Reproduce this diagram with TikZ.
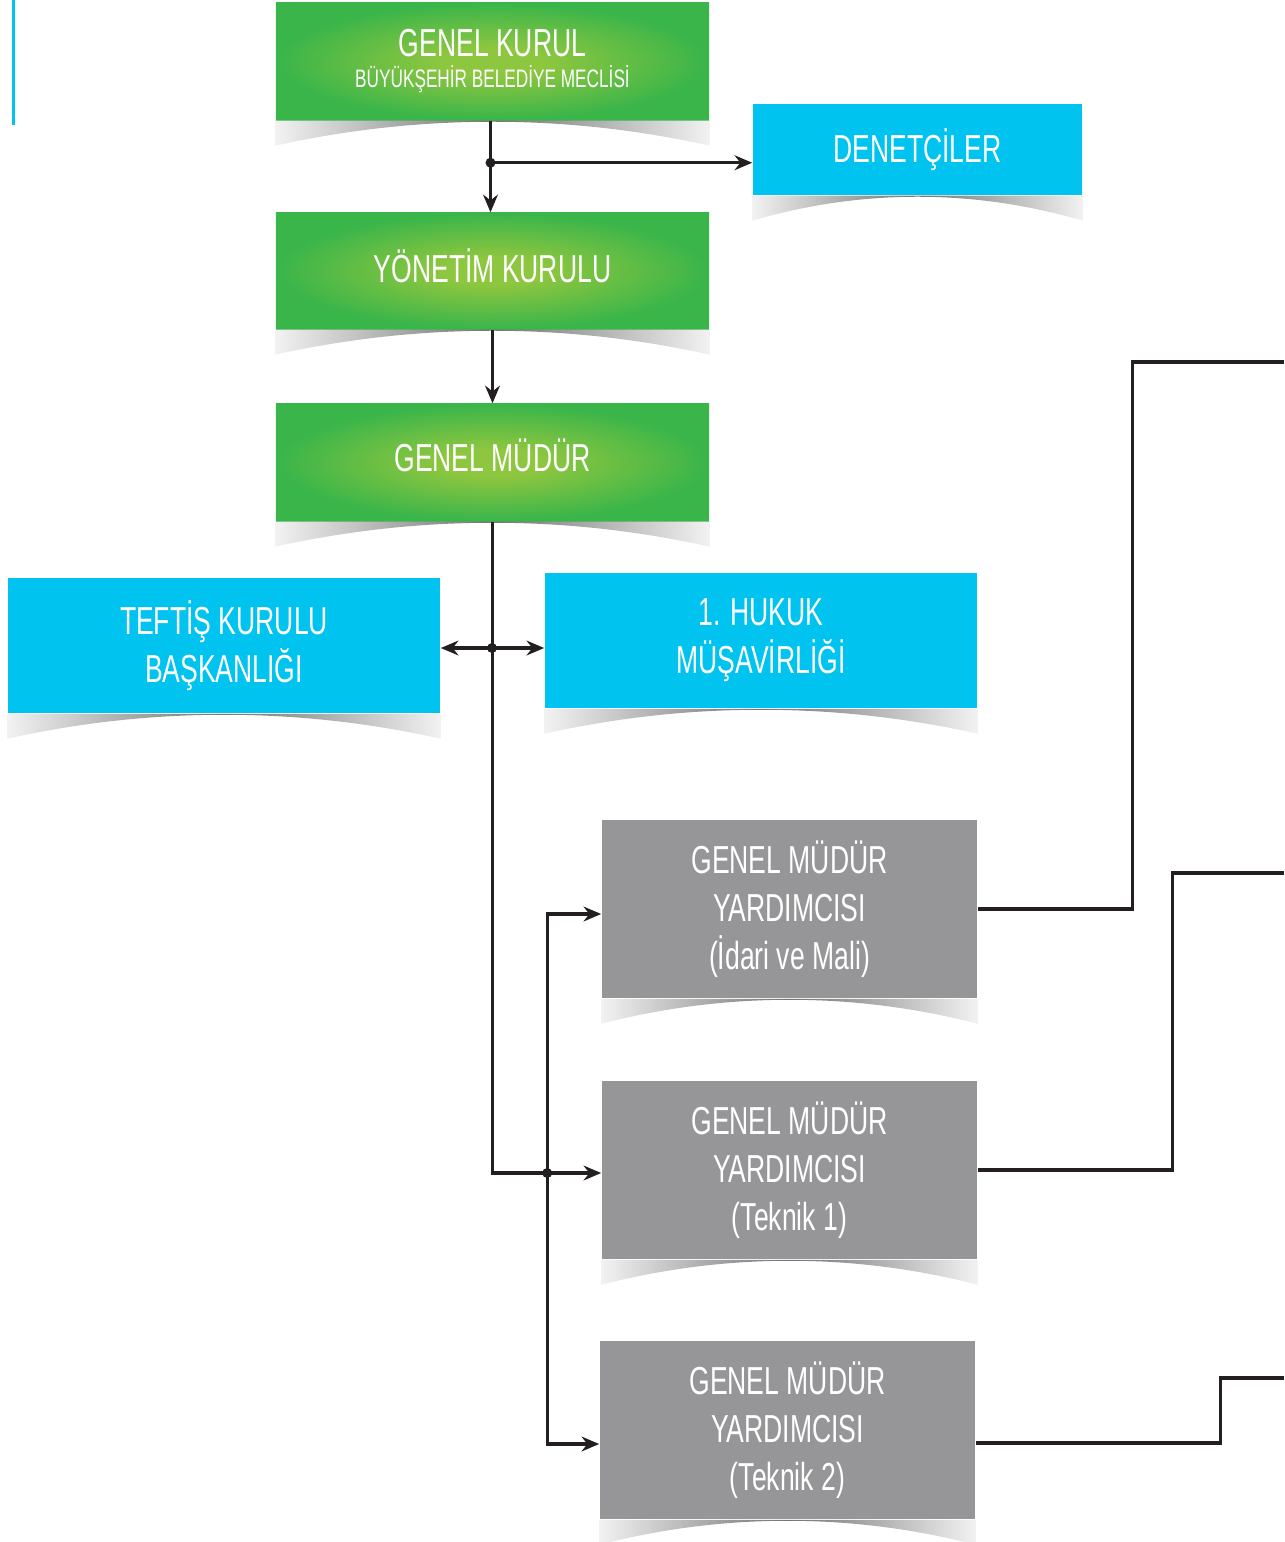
\documentclass[tikz,border=0pt]{standalone}
\usepackage{fontspec}
\setmainfont{Liberation Sans}[FakeStretch=0.68]
\usetikzlibrary{arrows.meta, calc}
\definecolor{kurulgreen}{RGB}{57,181,74}
\definecolor{kurullime}{RGB}{141,198,63}
\definecolor{birimcyan}{RGB}{0,195,240}
\definecolor{yardimgray}{RGB}{150,150,152}
\definecolor{hatblack}{RGB}{35,31,32}
\pgfdeclareradialshading{yesilisik}{\pgfpoint{0bp}{0bp}}{color(0bp)=(kurullime); color(6bp)=(kurullime); color(25bp)=(kurulgreen); color(50bp)=(kurulgreen)}
% curled shadow under a box
\newcommand{\kivrimgolge}[1]{%
 \shade[left color=black!5, right color=black!5, middle color=black!55]
 (#1.south west) -- (#1.south east) -- ($(#1.south east)+(0,25)$)
 .. controls ($(#1.south west)!0.67!(#1.south east)+(0,-7)$) and ($(#1.south west)!0.33!(#1.south east)+(0,-7)$)
 .. ($(#1.south west)+(0,25)$) -- cycle;}

\begin{document}
\begin{tikzpicture}[x=0.01cm, y=-0.01cm,
 kutu/.style={text=white, align=center, inner sep=0pt, font=\fontsize{11.1}{13.6}\selectfont},
 yesilkutu/.style={kutu, shading=yesilisik, minimum width=4.33cm, minimum height=1.17cm},
 mavikutu/.style={kutu, fill=birimcyan, minimum width=4.32cm, minimum height=1.35cm},
 grikutu/.style={kutu, fill=yardimgray, minimum width=3.75cm, minimum height=1.78cm},
 hat/.style={hatblack, line width=0.9pt},
 ok/.style={hat, -{Stealth[length=5pt, width=4.2pt]}},
 nokta/.style={hatblack}]
 \useasboundingbox (0,0) rectangle (1284,1542);

 % side mark
 \fill[birimcyan] (12,0) rectangle (15,125);

 % upper boards
 \node[yesilkutu] (genelkurul) at (492.5,61.5) {GENEL KURUL\\[-4.8pt]{\fontsize{7.2}{9}\selectfont BÜYÜKŞEHİR BELEDİYE MECLİSİ}};
 \node[kutu, fill=birimcyan, minimum width=3.29cm, minimum height=0.91cm] (denetci) at (917.5,149.5) {DENETÇİLER};
 \node[yesilkutu, minimum height=1.16cm] (yonetim) at (492.5,271) {\raisebox{3pt}{YÖNETİM KURULU}};
 \node[yesilkutu] (genelmudur) at (492.5,462.5) {\raisebox{4pt}{GENEL MÜDÜR}};

 % units beside the general manager
 \node[mavikutu] (teftis) at (224,645.5) {TEFTİŞ KURULU\\BAŞKANLIĞI};
 \node[mavikutu] (hukuk) at (761,640.5) {1. HUKUK\\MÜŞAVİRLİĞİ};

 % deputies
 \node[grikutu] (idari) at (789.5,909) {GENEL MÜDÜR\\YARDIMCISI\\(İdari ve Mali)};
 \node[grikutu] (teknik1) at (789.5,1170) {GENEL MÜDÜR\\YARDIMCISI\\(Teknik 1)};
 \node[grikutu] (teknik2) at (787.5,1430) {GENEL MÜDÜR\\YARDIMCISI\\(Teknik 2)};

 % shadows
 \foreach \kutuadi in {genelkurul,denetci,yonetim,genelmudur,teftis,hukuk,idari,teknik1,teknik2} {
  \kivrimgolge{\kutuadi}
 }

 % connectors
 \coordinate (ayrim1) at ($(genelkurul.south)+(-2,42)$);
 \draw[ok] ($(genelkurul.south)+(-2,0)$) -- (ayrim1 |- yonetim.north);
 \draw[ok] (ayrim1) -- (ayrim1 -| denetci.west);
 \fill[nokta] (ayrim1) circle (5);
 \draw[ok] (yonetim.south) -- (genelmudur.north);

 \coordinate (ayrim2) at (492,648);
 \coordinate (kol) at ($(teknik1.west)+(-54,3)$);
 \draw[ok] (genelmudur.south) |- (kol) -- (kol -| teknik1.west);
 \draw[ok] (ayrim2) -- (ayrim2 -| teftis.east);
 \draw[ok] (ayrim2) -- (ayrim2 -| hukuk.west);
 \fill[nokta] (ayrim2) circle (5);

 \draw[ok] (kol) |- ($(idari.west)+(0,5)$);
 \draw[ok] (kol) |- ($(teknik2.west)+(0,14)$);
 \fill[nokta] (kol) circle (5);

 % lines leaving to the right
 \coordinate (sag1) at (1284,362);
 \coordinate (sag2) at (1284,873);
 \coordinate (sag3) at (1284,1378);
 \draw[hat] (idari.east) -- ++(155,0) |- (sag1);
 \draw[hat] (teknik1.east) -- ++(195,0) |- (sag2);
 \draw[hat] ($(teknik2.east)+(0,13)$) -- ++(245,0) |- (sag3);
\end{tikzpicture}
\end{document}
